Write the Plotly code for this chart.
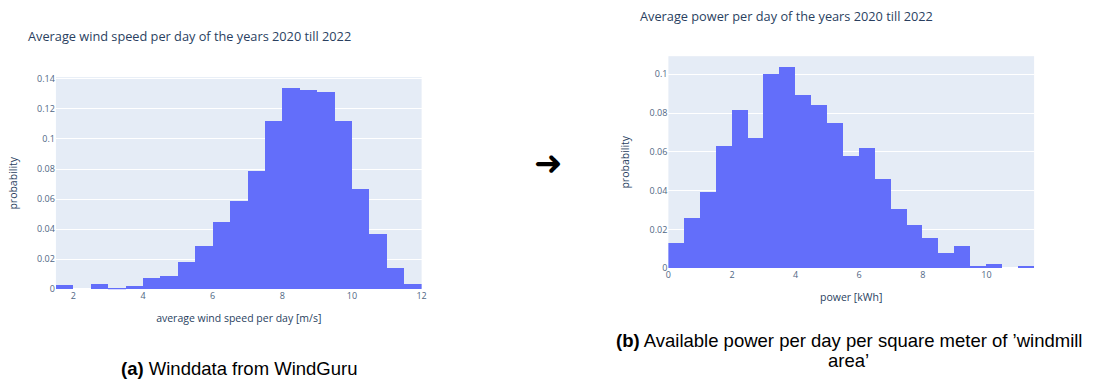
import plotly.graph_objects as go

W, H = 1093, 385

# Left histogram: average wind speed per day (bin width 0.5 m/s, starting at 1.5)
wind_bin_start = 1.5
wind_bin_width = 0.5
wind_prob = [0.0027, 0.0, 0.0037, 0.0011, 0.0024, 0.0075, 0.0090, 0.0179, 0.0286,
             0.0446, 0.0588, 0.0788, 0.1118, 0.1340, 0.1327, 0.1314, 0.1118, 0.0668,
             0.0366, 0.0144, 0.0037]
wind_xticks = [2, 4, 6, 8, 10, 12]

# Right histogram: power per day (bin width 0.5 kWh, starting at 0)
power_bin_start = 0.0
power_bin_width = 0.5
power_prob = [0.0130, 0.0260, 0.0394, 0.0629, 0.0813, 0.0669, 0.0998, 0.1037, 0.0891,
              0.0840, 0.0748, 0.0579, 0.0618, 0.0459, 0.0302, 0.0222, 0.0157, 0.0077,
              0.0115, 0.0012, 0.0023, 0.0, 0.0012]
power_xticks = [0, 2, 4, 6, 8, 10]

title_left = "Average wind speed per day of the years 2020 till 2022"
title_right = "Average power per day of the years 2020 till 2022"
xlabel_left = "average wind speed per day [m/s]"
xlabel_right = "power [kWh]"
ylabel = "probability"
caption_a = "<b>(a)</b> Winddata from WindGuru"
caption_b1 = "<b>(b)</b> Available power per day per square meter of \u2019windmill"
caption_b2 = "area\u2019"


def centers(start, width, n):
    return [start + width * (i + 0.5) for i in range(n)]


def px_x(p):
    return p / W


def px_y(p):
    return 1 - p / H


fig = go.Figure()
fig.add_trace(go.Bar(
    x=centers(wind_bin_start, wind_bin_width, len(wind_prob)), y=wind_prob,
    width=wind_bin_width, marker=dict(color="#636efa", line=dict(width=0)),
    xaxis="x", yaxis="y", showlegend=False))
fig.add_trace(go.Bar(
    x=centers(power_bin_start, power_bin_width, len(power_prob)), y=power_prob,
    width=power_bin_width, marker=dict(color="#636efa", line=dict(width=0)),
    xaxis="x2", yaxis="y2", showlegend=False))

tick_font = dict(size=9, color="#506784")
axis_title_font = dict(size=10.5, color="#2a3f5f")
title_font = dict(size=12.75, color="#2a3f5f")
caption_font = dict(size=18.5, color="black", family="Liberation Sans, Arial")

wind_end = wind_bin_start + wind_bin_width * len(wind_prob)
power_end = power_bin_start + power_bin_width * len(power_prob)

fig.update_layout(
    width=W, height=H,
    margin=dict(l=0, r=0, t=0, b=0),
    template="plotly",
    paper_bgcolor="white",
    bargap=0,
    font=dict(family="Open Sans, verdana, arial, sans-serif"),
    xaxis=dict(domain=[px_x(53.3), px_x(421.7)], anchor="y",
               range=[wind_bin_start, wind_end], tickvals=wind_xticks,
               tickfont=tick_font,
               title=dict(text=xlabel_left, font=axis_title_font, standoff=13)),
    yaxis=dict(domain=[px_y(292.7), px_y(74.3)], anchor="x",
               range=[0, 0.1411], dtick=0.02, tickformat="~g",
               tickfont=tick_font,
               title=dict(text=ylabel, font=axis_title_font, standoff=17)),
    xaxis2=dict(domain=[px_x(670.3), px_x(1038.7)], anchor="y2",
                range=[power_bin_start, power_end], tickvals=power_xticks,
                tickfont=tick_font,
                title=dict(text=xlabel_right, font=axis_title_font, standoff=13)),
    yaxis2=dict(domain=[px_y(271.0), px_y(52.7)], anchor="x2",
                range=[0, 0.1093], dtick=0.02, tickformat="~g",
                tickfont=tick_font,
                title=dict(text=ylabel, font=axis_title_font, standoff=17)),
    annotations=[
        dict(text=title_left, x=px_x(22.7), y=px_y(32), xref="paper", yref="paper",
             xanchor="left", yanchor="middle", showarrow=False, font=title_font),
        dict(text=title_right, x=px_x(640), y=px_y(11), xref="paper", yref="paper",
             xanchor="left", yanchor="middle", showarrow=False, font=title_font),
        dict(text="\u279c", x=px_x(550), y=px_y(163), xref="paper", yref="paper",
             xanchor="center", yanchor="middle", showarrow=False,
             font=dict(size=34, color="black", family="DejaVu Sans")),
        dict(text=caption_a, x=px_x(237.5), y=px_y(374), xref="paper", yref="paper",
             xanchor="center", yanchor="middle", showarrow=False, font=caption_font),
        dict(text=caption_b1, x=px_x(852), y=px_y(345), xref="paper", yref="paper",
             xanchor="center", yanchor="middle", showarrow=False, font=caption_font),
        dict(text=caption_b2, x=px_x(852), y=px_y(366), xref="paper", yref="paper",
             xanchor="center", yanchor="middle", showarrow=False, font=caption_font),
    ],
)

fig.write_html("out.html", config={"displayModeBar": False},
               post_script="document.body.style.margin='0';")
